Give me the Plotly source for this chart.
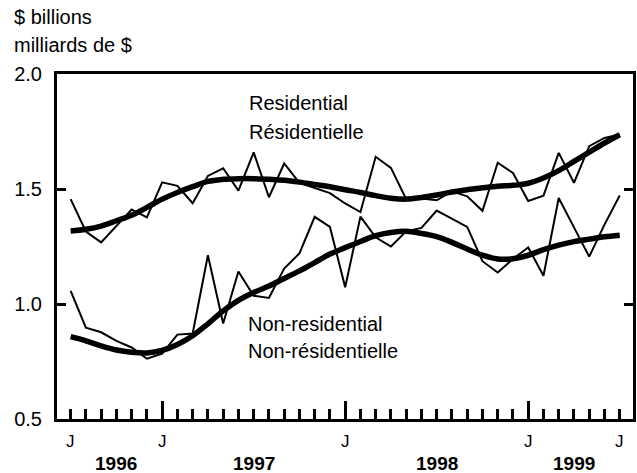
import plotly.graph_objects as go

# Monthly data, July 1996 .. July 1999 ($ billions)
months = ["1996-07", "1996-08", "1996-09", "1996-10", "1996-11", "1996-12",
          "1997-01", "1997-02", "1997-03", "1997-04", "1997-05", "1997-06",
          "1997-07", "1997-08", "1997-09", "1997-10", "1997-11", "1997-12",
          "1998-01", "1998-02", "1998-03", "1998-04", "1998-05", "1998-06",
          "1998-07", "1998-08", "1998-09", "1998-10", "1998-11", "1998-12",
          "1999-01", "1999-02", "1999-03", "1999-04", "1999-05", "1999-06",
          "1999-07"]

residential = [1.456, 1.315, 1.268, 1.340, 1.411, 1.377, 1.529, 1.514, 1.438,
               1.557, 1.590, 1.493, 1.659, 1.464, 1.611, 1.527, 1.503, 1.482,
               1.437, 1.400, 1.640, 1.592, 1.456, 1.459, 1.451, 1.490, 1.468,
               1.405, 1.614, 1.570, 1.448, 1.471, 1.657, 1.527, 1.686, 1.722,
               1.737]
residential_trend = [1.317, 1.325, 1.339, 1.362, 1.386, 1.420, 1.456, 1.485,
                     1.510, 1.533, 1.542, 1.545, 1.545, 1.542, 1.538, 1.530,
                     1.520, 1.510, 1.497, 1.485, 1.471, 1.460, 1.456, 1.463,
                     1.474, 1.487, 1.497, 1.505, 1.512, 1.516, 1.525, 1.548,
                     1.580, 1.620, 1.660, 1.700, 1.736]
nonres = [1.057, 0.897, 0.877, 0.840, 0.811, 0.762, 0.784, 0.867, 0.872,
          1.212, 0.915, 1.141, 1.036, 1.026, 1.154, 1.220, 1.379, 1.335,
          1.073, 1.380, 1.290, 1.250, 1.316, 1.331, 1.406, 1.372, 1.335,
          1.186, 1.137, 1.196, 1.246, 1.123, 1.461, 1.333, 1.206, 1.345,
          1.472]
nonres_trend = [0.858, 0.840, 0.818, 0.800, 0.790, 0.787, 0.798, 0.824,
                0.862, 0.914, 0.970, 1.016, 1.050, 1.078, 1.111, 1.144,
                1.180, 1.217, 1.245, 1.272, 1.297, 1.311, 1.316, 1.307,
                1.293, 1.268, 1.239, 1.212, 1.196, 1.197, 1.212, 1.236,
                1.256, 1.271, 1.282, 1.292, 1.299]

y_ticks = [0.5, 1.0, 1.5, 2.0]
y_ticktext = ["0.5", "1.0", "1.5", "2.0"]
month_label_idx = [0, 6, 18, 30, 36]
month_label = "J"
year_labels = ["1996", "1997", "1998", "1999"]
year_label_idx = [3, 12, 24, 33]

x = list(range(len(months)))
FONT = "Liberation Sans, Arial, Helvetica, sans-serif"

W, H = 637, 473
ML, MR, MT, MB = 57, 1, 74, 54


def py(ypix):
    return (H - MB - ypix) / (H - MT - MB)


def px(xpix):
    return (xpix - ML) / (W - ML - MR)


fig = go.Figure()
for ys, w, shape in [(residential_trend, 5.5, "spline"),
                     (nonres_trend, 5.5, "spline"),
                     (residential, 2, "linear"),
                     (nonres, 2, "linear")]:
    fig.add_trace(go.Scatter(x=x, y=ys, mode="lines",
                             line=dict(color="black", width=w, shape=shape),
                             showlegend=False, hoverinfo="skip"))

annotations = []
for i in month_label_idx:
    annotations.append(dict(x=i, y=py(441), xref="x", yref="paper",
                            text=month_label, showarrow=False,
                            xanchor="center", yanchor="middle",
                            font=dict(family=FONT, size=17, color="black")))
for lab, i in zip(year_labels, year_label_idx):
    annotations.append(dict(x=i, y=py(463), xref="x", yref="paper",
                            text="<b>" + lab + "</b>", showarrow=False,
                            xanchor="center", yanchor="middle",
                            font=dict(family=FONT, size=19, color="black")))

text_items = [("$ billions", 12, 17), ("milliards de $", 12, 45),
              ("Residential", 248, 103), ("Résidentielle", 248, 132),
              ("Non-residential", 247, 324), ("Non-résidentielle", 247, 351)]
for t, xp, yp in text_items:
    annotations.append(dict(x=px(xp), y=py(yp), xref="paper", yref="paper",
                            text=t, showarrow=False, xanchor="left",
                            yanchor="middle",
                            font=dict(family=FONT, size=20, color="black")))

fig.update_layout(
    width=W, height=H,
    margin=dict(l=ML, r=MR, t=MT, b=MB, pad=0),
    paper_bgcolor="white", plot_bgcolor="white",
    annotations=annotations,
    xaxis=dict(range=[-0.894, 36.87], showgrid=False, zeroline=False,
               showline=True, linecolor="black", linewidth=3, mirror=True,
               tickmode="array", tickvals=[6, 18, 30], ticks="inside",
               ticklen=18, tickwidth=2.5, tickcolor="black",
               showticklabels=False,
               minor=dict(tick0=0, dtick=1, ticks="inside", ticklen=10,
                          tickwidth=2.5, tickcolor="black", showgrid=False)),
    yaxis=dict(range=[0.5, 2.0], showgrid=False, zeroline=False,
               showline=True, linecolor="black", linewidth=3, mirror="ticks",
               tickmode="array", tickvals=y_ticks, ticktext=y_ticktext,
               ticks="inside", ticklen=9, tickwidth=3, tickcolor="black",
               ticklabelstandoff=8,
               tickfont=dict(family=FONT, size=20, color="black")),
)

fig.write_html("out.html",
               config={"displayModeBar": False},
               post_script="document.body.style.margin='0';"
                           "document.body.style.overflow='hidden';")
